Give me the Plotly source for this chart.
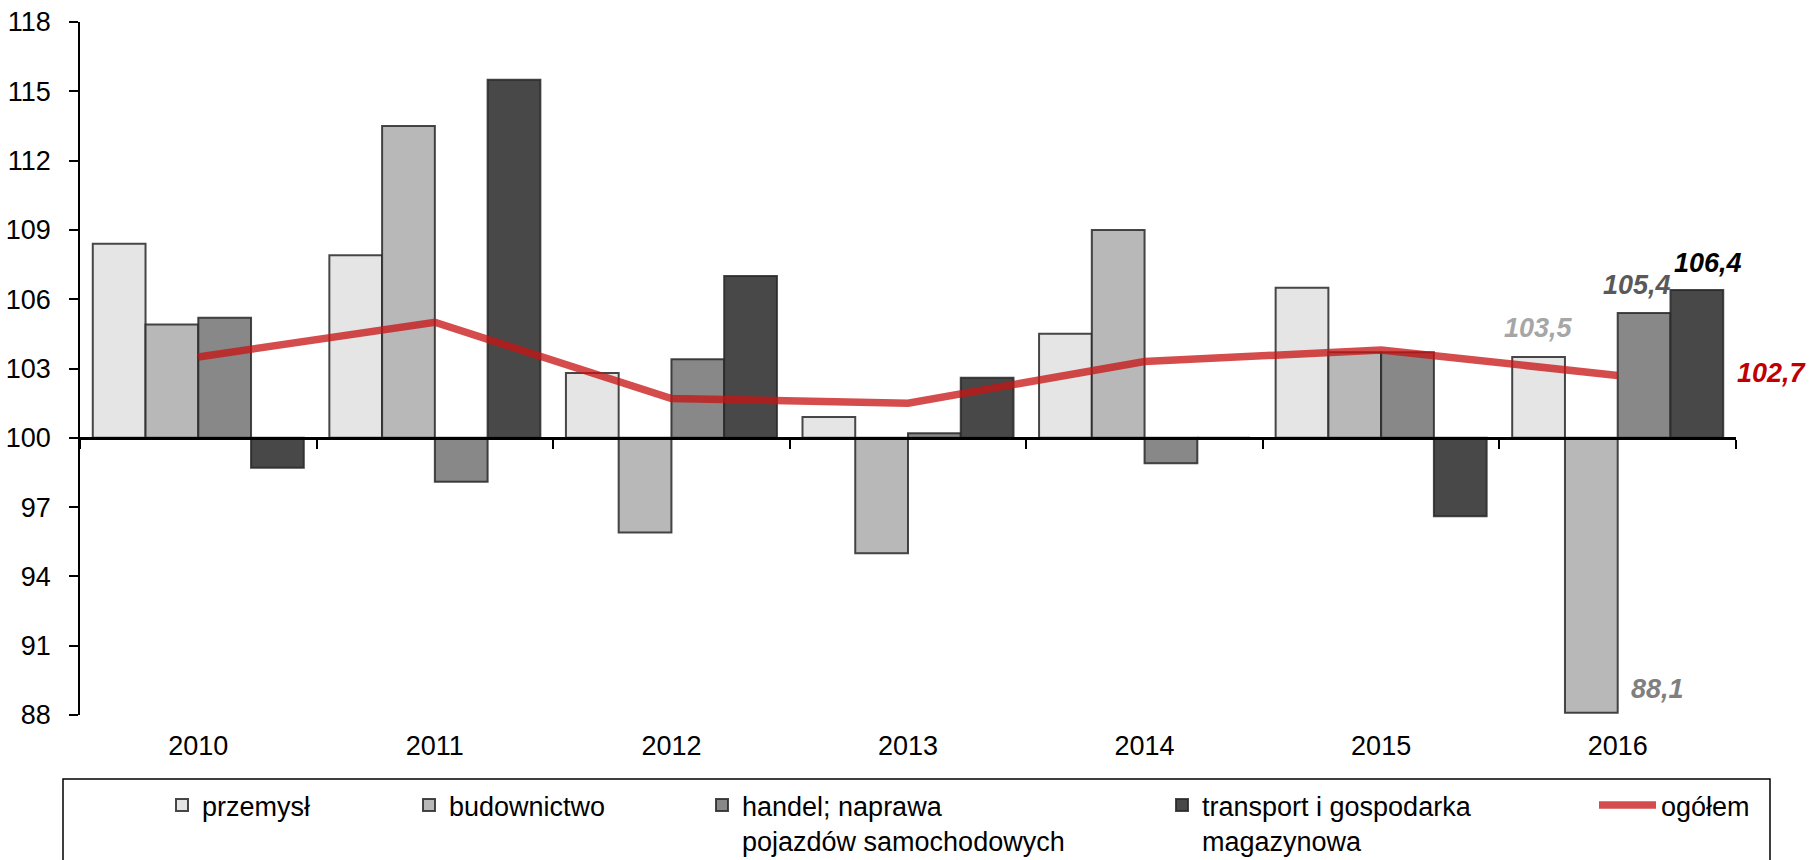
import plotly.graph_objects as go

years = ["2010", "2011", "2012", "2013", "2014", "2015", "2016"]
przemysl = [108.4, 107.9, 102.8, 100.9, 104.5, 106.5, 103.5]
budownictwo = [104.9, 113.5, 95.9, 95.0, 109.0, 103.7, 88.1]
handel = [105.2, 98.1, 103.4, 100.2, 98.9, 103.7, 105.4]
transport = [98.7, 115.5, 107.0, 102.6, 100.0, 96.6, 106.4]
ogolem = [103.5, 105.0, 101.7, 101.5, 103.3, 103.8, 102.7]

names = ["przemysł", "budownictwo", "handel; naprawa<br>pojazdów samochodowych",
         "transport i gospodarka<br>magazynowa", "ogółem"]
bar_colors = ["#e5e5e5", "#b8b8b8", "#888888", "#484848"]
BASE = 100
FONT = "Liberation Sans, Arial, sans-serif"

fig = go.Figure()
series = [przemysl, budownictwo, handel, transport]
legends = ["legend", "legend2", "legend3", "legend4"]
for vals, nm, col, lg in zip(series, names[:4], bar_colors, legends):
    fig.add_trace(go.Bar(
        x=years, y=[v - BASE for v in vals], base=BASE, name=nm,
        marker=dict(color=col, line=dict(color="rgba(40,40,40,0.85)", width=2)),
        legend=lg,
    ))

fig.add_trace(go.Scatter(
    x=years, y=ogolem, name=names[4], mode="lines",
    line=dict(color="rgba(200,20,20,0.76)", width=7.5),
    xaxis="x2", legend="legend5",
))

W, H = 1815, 860
L, R, T, B = 80, 79, 22, 145
pw, ph = W - L - R, H - T - B


def px_x(p):
    return (p - L) / pw


def px_y(p):
    return (H - B - p) / ph


leg_font = dict(family=FONT, size=27, color="#000")
text_x = [201, 448, 741, 1201, 1660]
legend_layout = {}
for i, tx in enumerate(text_x):
    key = "legend" if i == 0 else f"legend{i+1}"
    iw = 57 if i == 4 else 30
    legend_layout[key] = dict(
        xref="container", yref="container",
        x=(tx - (iw + 10) + 1) / W, xanchor="left",
        y=1 - 781 / H, yanchor="top",
        font=leg_font, bgcolor="rgba(0,0,0,0)", borderwidth=0,
        valign="top", itemwidth=iw, tracegroupgap=0,
    )

i16 = years.index("2016")
ann_font = dict(family=FONT, size=27)
annotations = [
    dict(x=i16, y=przemysl[i16], text="<b><i>103,5</i></b>", xshift=-79, yshift=29,
         font=dict(color="#a6a6a6", **ann_font)),
    dict(x=i16, y=budownictwo[i16], text="<b><i>88,1</i></b>", xshift=40, yshift=24,
         font=dict(color="#7f7f7f", **ann_font)),
    dict(x=i16, y=handel[i16], text="<b><i>105,4</i></b>", xshift=19, yshift=28,
         font=dict(color="#595959", **ann_font)),
    dict(x=i16, y=transport[i16], text="<b><i>106,4</i></b>", xshift=90, yshift=27,
         font=dict(color="#000000", **ann_font)),
    dict(x=i16, y=ogolem[i16], text="<b><i>102,7</i></b>", xshift=154, yshift=2,
         font=dict(color="#c00000", **ann_font)),
]
for a in annotations:
    a.update(showarrow=False, xref="x", yref="y", xanchor="center", yanchor="middle")

xrange = [-0.5, len(years) - 0.5]
fig.update_layout(
    width=W, height=H,
    margin=dict(l=L, r=R, t=T, b=B, autoexpand=False),
    paper_bgcolor="white", plot_bgcolor="white",
    barmode="group", bargap=0.108, bargroupgap=0,
    font=dict(family=FONT, size=27, color="#000"),
    showlegend=True,
    xaxis=dict(type="category", categoryorder="array", categoryarray=years,
               range=xrange, autorange=False, automargin=False,
               showline=False, ticks="", showgrid=False, zeroline=False,
               tickfont=dict(family=FONT, size=27), ticklabelstandoff=12),
    xaxis2=dict(type="category", categoryorder="array", categoryarray=years,
                range=xrange, autorange=False,
                overlaying="x", anchor="free", position=(BASE - 88) / 30,
                showline=True, linecolor="#000", linewidth=2.5,
                ticks="outside", ticklen=9, tickwidth=2, tickcolor="#000",
                tickson="boundaries", showticklabels=False, showgrid=False, zeroline=False),
    yaxis=dict(range=[88, 118], tick0=88, dtick=3, showgrid=False, zeroline=False,
               automargin=False,
               showline=True, linecolor="#000", linewidth=1.5,
               ticks="outside", ticklen=9, tickwidth=1.5, tickcolor="#000",
               tickfont=dict(family=FONT, size=27), ticklabelstandoff=13),
    annotations=annotations,
    shapes=[dict(type="rect", xref="paper", yref="paper",
                 x0=px_x(63), x1=px_x(1770), y0=px_y(779), y1=px_y(905),
                 line=dict(color="#000", width=1.5), fillcolor="rgba(0,0,0,0)")],
    **legend_layout,
)

fig.write_html("out.html", config={"displayModeBar": False},
               post_script="document.body.style.margin='0';")
